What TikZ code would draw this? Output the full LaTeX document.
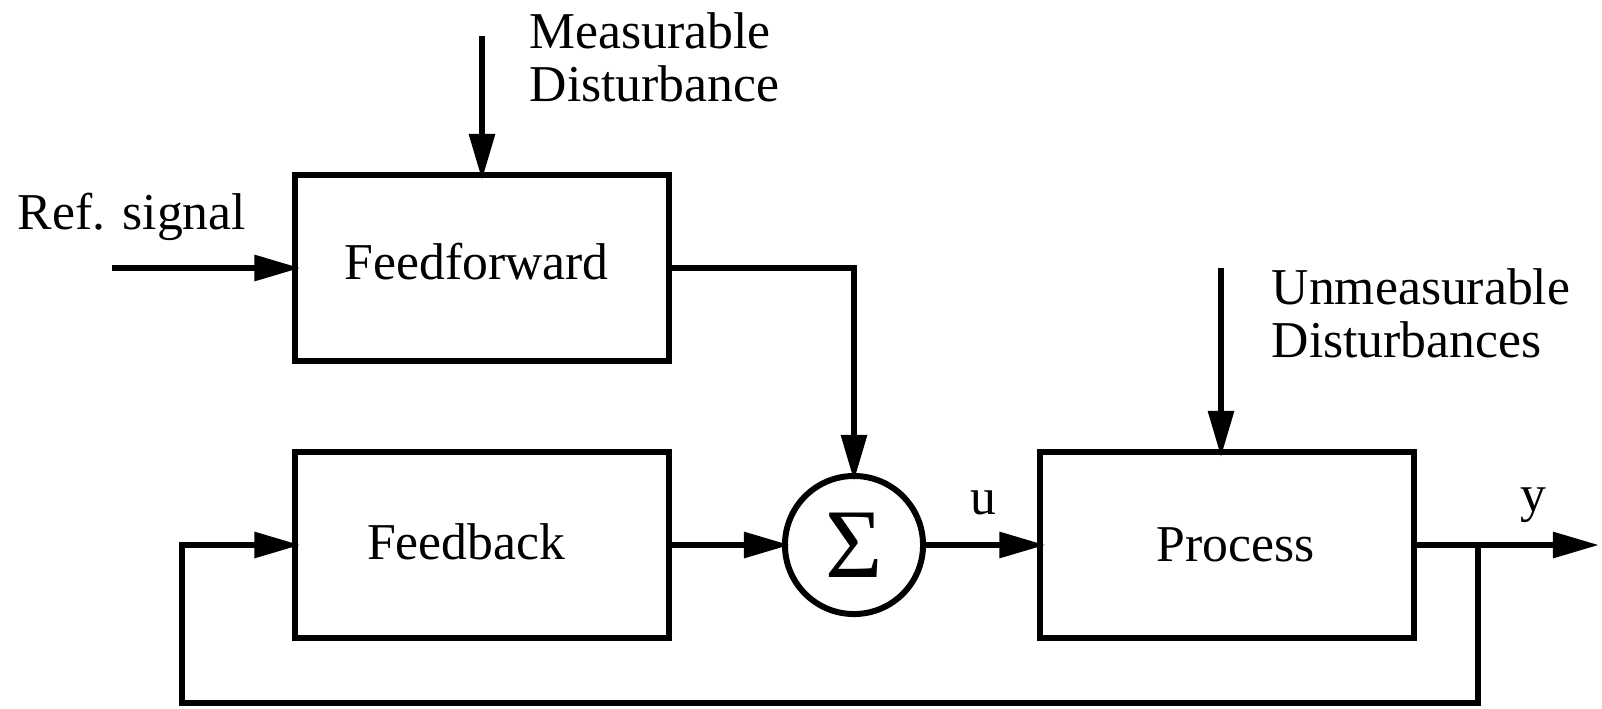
\documentclass[tikz,border=0pt]{standalone}
\usepackage{fontspec}
\setmainfont{Liberation Serif}
\usetikzlibrary{arrows.meta,positioning}

\begin{document}
\begin{tikzpicture}[x=0.01cm, y=-0.01cm, line width=1.7pt,
    every node/.style={font=\fontsize{14.7}{15}\selectfont},
    block/.style={draw, line width=1.7pt, minimum width=3.73cm, minimum height=1.86cm},
    sig/.style={-{Triangle[length=4.6mm,width=2.5mm]}, shorten >=-0.8mm}]
    \useasboundingbox (0,0) rectangle (1602,708);
    \node[block] (ff) at (482,268) {\hspace*{-3pt}\raisebox{4pt}{Feedforward}};
    \node[block] (fb) at (482,545) {\hspace*{-9pt}\raisebox{2pt}{Feedback}};
    \node[draw, circle, line width=1.7pt, minimum size=1.38cm, inner sep=0pt] (sum) at (854,545) {\fontsize{28}{28}\selectfont Σ};
    \node[block] (proc) at (1227,545) {\hspace*{5pt}Process};

    \coordinate (refin) at (112,268);
    \coordinate (mdin) at (482,36);
    \coordinate (udin) at (1221,268);
    \coordinate (yout) at (1591,545);
    \coordinate (tap) at (1478,545);
    \coordinate (loopl) at (182,703);

    \node[anchor=west, align=left] (mdlbl) at (515,57) {Measurable\\Disturbance};
    \node[anchor=west, align=left] (udlbl) at (1257,313) {Unmeasurable\\Disturbances};
    \node (reflbl) at (132,217) {Ref. signal};
    \node (ulbl) at (983,503) {u};
    \node (ylbl) at (1533,505) {y};

    \draw[sig] (refin) -- (ff.west);
    \draw[sig] (mdin) -- (ff.north);
    \draw[sig] (ff.east) -| (sum.north);
    \draw[sig] (fb.east) -- (sum.west);
    \draw[sig] (sum.east) -- (proc.west);
    \draw[sig] (udin) -- (udin |- proc.north);
    \draw[sig] (proc.east) -- (yout);
    \draw[sig] (tap) |- (loopl) |- (fb.west);
\end{tikzpicture}
\end{document}
